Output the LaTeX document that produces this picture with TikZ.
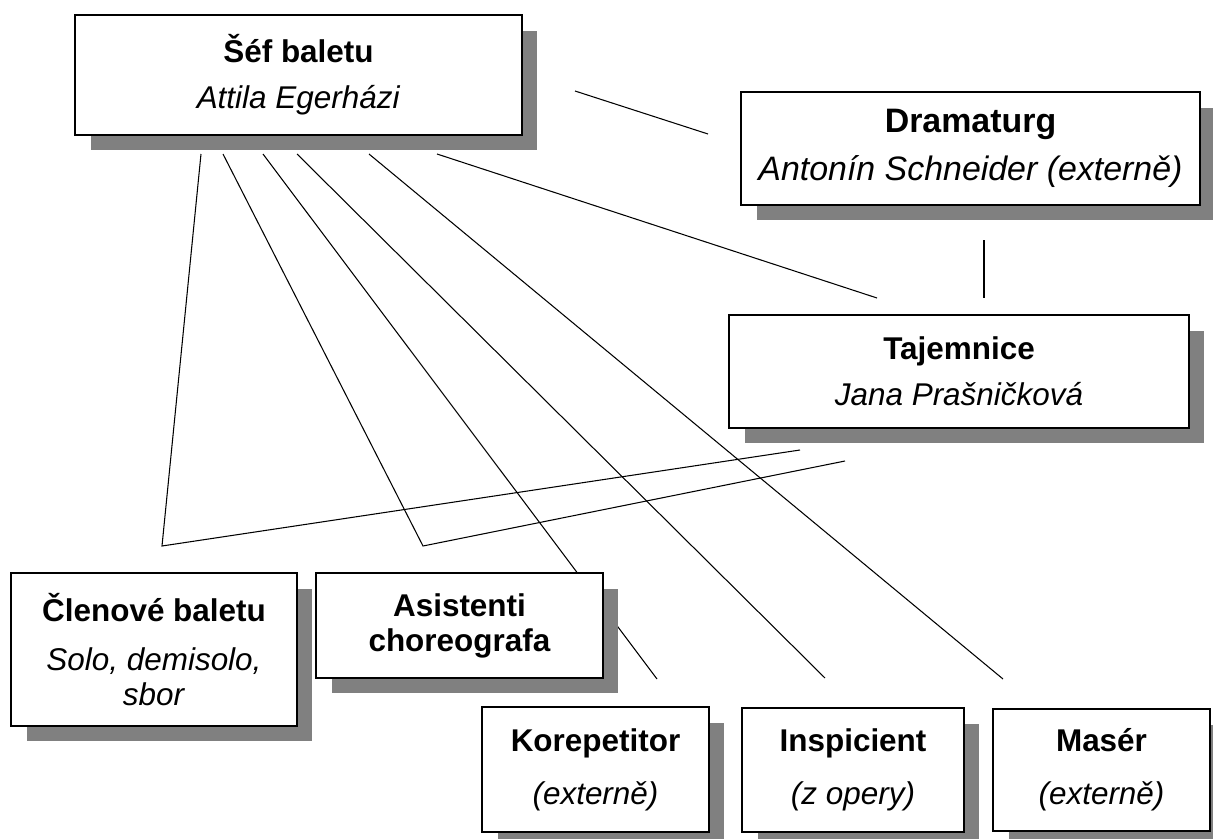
\documentclass[tikz,border=0pt]{standalone}
\usepackage{fontspec}
\setmainfont{Liberation Sans}
\usetikzlibrary{shadows}
\definecolor{shadowgray}{HTML}{808080}

\tikzset{
    orgbox/.style={draw=black, line width=1.1pt, fill=white, align=center, inner sep=0pt,
        font=\fontsize{17.9}{20}\selectfont,
        drop shadow={shadow xshift=0.31cm, shadow yshift=-0.31cm, fill=shadowgray, opacity=1}},
    link/.style={line width=0.6pt}
}

\begin{document}
\begin{tikzpicture}[x=0.02cm, y=-0.02cm]

    \useasboundingbox (0, 0) rectangle (1213, 838);

    % ends of the connectors
    \coordinate (s1) at (201, 154);
    \coordinate (s2) at (223, 154);
    \coordinate (s3) at (263, 154);
    \coordinate (s4) at (297, 154);
    \coordinate (s5) at (369, 154);
    \coordinate (s6) at (437, 154);
    \coordinate (j1) at (162, 546);
    \coordinate (j2) at (423, 546);
    \coordinate (t1) at (800, 450);
    \coordinate (t2) at (845, 461);
    \coordinate (t3) at (877, 298);
    \coordinate (k1) at (657, 679);
    \coordinate (i1) at (825, 678);
    \coordinate (m1) at (1003, 679);
    \coordinate (d1) at (575, 91);
    \coordinate (d2) at (708, 134);
    \coordinate (d3) at (984, 240);
    \coordinate (d4) at (984, 298);

    \draw[link] (s1) -- (j1) -- (t1);
    \draw[link] (s2) -- (j2) -- (t2);
    \draw[link] (s3) -- (k1);
    \draw[link] (s4) -- (i1);
    \draw[link] (s5) -- (m1);
    \draw[link] (s6) -- (t3);
    \draw[link] (d1) -- (d2);
    \draw[link] (d3) -- (d4);

    \node[orgbox, minimum width=8.94cm, minimum height=2.4cm] (sef) at (298.5, 75)
        {\textbf{Šéf baletu}\\[6pt]\textit{Attila Egerházi}};

    \node[orgbox, minimum width=9.18cm, minimum height=2.26cm, font=\fontsize{19.3}{21.5}\selectfont]
        (dramaturg) at (970.5, 148.5)
        {\textbf{Dramaturg}\\[6pt]\textit{Antonín Schneider (externě)}};

    \node[orgbox, minimum width=9.2cm, minimum height=2.26cm] (tajemnice) at (959, 371.5)
        {\textbf{Tajemnice}\\[6pt]\textit{Jana Prašničková}};

    \node[orgbox, minimum width=5.72cm, minimum height=3.06cm] (clenove) at (154, 649.5)
        {\textbf{Členové baletu}\\[8pt]\textit{Solo, demisolo,}\\\textit{sbor}};

    \node[orgbox, minimum width=5.74cm, minimum height=2.1cm] (asistenti) at (459.5, 625.5)
        {\textbf{Asistenti}\\\textbf{choreografa}};

    \node[orgbox, minimum width=4.54cm, minimum height=2.5cm] (korepetitor) at (595.5, 769.5)
        {\textbf{Korepetitor}\\[10pt]\textit{(externě)}};

    \node[orgbox, minimum width=4.44cm, minimum height=2.48cm] (inspicient) at (853, 770)
        {\textbf{Inspicient}\\[10pt]\textit{(z opery)}};

    \node[orgbox, minimum width=4.34cm, minimum height=2.44cm] (maser) at (1101.5, 770)
        {\textbf{Masér}\\[10pt]\textit{(externě)}};

\end{tikzpicture}
\end{document}
